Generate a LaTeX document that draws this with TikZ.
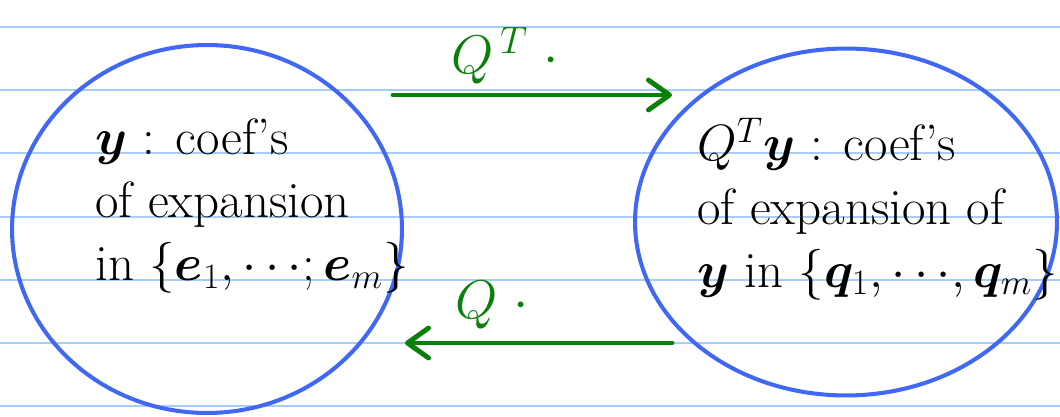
\RequirePackage{fix-cm}
\documentclass[tikz,border=0pt]{standalone}
\usepackage{amsmath,amssymb}
\usepackage{bm}
\usetikzlibrary{arrows.meta,shapes.geometric}

\definecolor{penblue}{RGB}{64,104,245}
\definecolor{pengreen}{RGB}{10,128,10}
\definecolor{ruleblue}{RGB}{165,205,245}

\tikzset{
  rulel/.style={ruleblue,line width=1.1pt},
  blob/.style={ellipse,draw=penblue,line width=2.3pt,inner sep=0pt},
  note/.style={align=left,inner sep=0pt,font=\fontsize{29}{36}\selectfont},
  maparrow/.style={pengreen,line width=2.8pt,line cap=round,
    -{Straight Barb[length=12pt,width=17pt,line cap=round,line join=round]}},
  maplabel/.style={pengreen,inner sep=0pt,font=\fontsize{31}{36}\selectfont}
}

\begin{document}
\begin{tikzpicture}[x=0.02cm,y=0.02cm]
  \useasboundingbox (0,0) rectangle (1060,416);
  % ruled paper
  \foreach \i in {0,...,6}
    \draw[rulel] (0,389-63.2*\i) -- (1060,389-63.2*\i);

  \node[blob,minimum width=7.8cm,minimum height=7.36cm] (stdb) at (207,187) {};
  \node[blob,minimum width=8.44cm,minimum height=6.94cm] (qb) at (846,194) {};

  \node[note,anchor=west] (stdtxt) at (95,210)
    {$\bm{y}$ : coef's\\ of expansion\\ in $\{\bm{e}_1,\cdots\!;\bm{e}_m\}$};
  \node[note,anchor=west] (qtxt) at (697,207)
    {$Q^{T}\bm{y}$ : coef's\\ of expansion of\\ $\bm{y}$ in $\{\bm{q}_1,\cdots\!,\bm{q}_m\}$};

  \coordinate (fwdS) at (393,321);
  \coordinate (fwdE) at (672,321);
  \coordinate (bckS) at (672,73);
  \coordinate (bckE) at (405,73);
  \draw[maparrow] (fwdS) -- (fwdE);
  \draw[maparrow] (bckS) -- (bckE);

  \node[maplabel] (qtlab) at (505,360) {$Q^{\,T}\;\cdot$};
  \node[maplabel] (qlab) at (492,111) {$Q\;\cdot$};
\end{tikzpicture}
\end{document}
